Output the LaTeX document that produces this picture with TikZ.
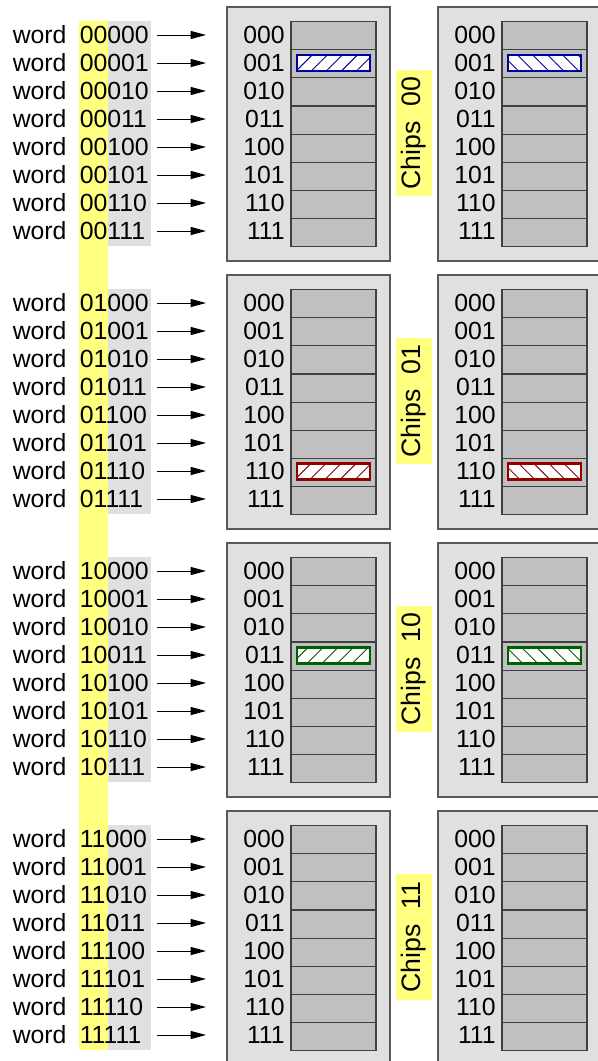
\documentclass[tikz,border=0pt]{standalone}
\usepackage{fontspec}
\setmainfont{Liberation Sans}
\usetikzlibrary{arrows.meta,patterns.meta}
\definecolor{hl}{HTML}{FFFF80}
\definecolor{bitbg}{HTML}{E0E0E0}
\definecolor{boxbg}{HTML}{E0E0E0}
\definecolor{cellbg}{HTML}{C0C0C0}
\definecolor{hblue}{HTML}{0000A0}
\definecolor{hred}{HTML}{900000}
\definecolor{hgreen}{HTML}{006000}
\tikzset{
  txt/.style={inner sep=0pt, font=\fontsize{18.6}{20}\selectfont},
  arr/.style={-{Triangle[length=11.5pt,width=6pt]}, line width=0.75pt},
  chipbox/.style={fill=boxbg, draw=black!65, line width=1pt},
  cell/.style={fill=cellbg, draw=black!75, line width=0.9pt},
  chiplabel/.style={fill=hl, rotate=90, minimum width=94.5pt, minimum height=27pt, inner sep=0pt, font=\fontsize{20}{22}\selectfont},
  hatchbox/.style={draw=#1, line width=2pt},
}
\newcommand{\hatchcell}[4]{% x, y, colour, angle
  \fill[white] (#1,#2-8) rectangle ++(73,16);
  \path[pattern={Lines[angle=#4,distance=8pt,line width=0.7pt]}, pattern color=#3] (#1,#2-8) rectangle ++(73,16);
  \draw[hatchbox=#3] (#1,#2-8) rectangle ++(73,16);
}
\begin{document}
\begin{tikzpicture}[x=0.75pt,y=-0.75pt]
\clip (0,0) rectangle (598,1061);
\fill[white] (0,0) rectangle (598,1061);
% yellow stripe of high bits
\fill[hl] (79,21) rectangle (108,1050);
\foreach \g/\gb in {0/00,1/01,2/10,3/11} {
  \pgfmathsetmacro\yz{35+268*\g}
  \fill[bitbg] (108,\yz-14) rectangle (151,\yz+7*28+15);
  % chip boxes
  \foreach \s in {0,1} {
    \draw[chipbox] (227+211*\s,\yz-28) rectangle ++(163,254);
    \foreach \r/\rb in {0/000,1/001,2/010,3/011,4/100,5/101,6/110,7/111} {
      \draw[cell] (291+211*\s,\yz-13.5+28.15*\r) rectangle ++(85,28.15);
      \node[txt, anchor=base east] (lab-\g-\s-\r) at (285+211*\s,\yz+28*\r+8.8) {\rb};
    }
  }
  \node[chiplabel] (cl-\g) at (414,\yz+98) {Chips\ \ \gb};
  % words
  \foreach \r/\rb in {0/000,1/001,2/010,3/011,4/100,5/101,6/110,7/111} {
    \node[txt, anchor=base west] (w-\g-\r) at (12.5,\yz+28*\r+8.8) {word};
    \node[txt, anchor=base west] (b-\g-\r) at (79.5,\yz+28*\r+8.8) {\gb\rb};
    \coordinate (as-\g-\r) at (157,\yz+28*\r);
    \coordinate (ae-\g-\r) at (206,\yz+28*\r);
    \draw[arr] (as-\g-\r) -- (ae-\g-\r);
  }
}
% hatched (selected) words
\hatchcell{297}{63}{hblue}{45}
\hatchcell{508}{63}{hblue}{-45}
\hatchcell{297}{471.5}{hred}{45}
\hatchcell{508}{471.5}{hred}{-45}
\hatchcell{297}{655.5}{hgreen}{45}
\hatchcell{508}{655.5}{hgreen}{-45}
\end{tikzpicture}
\end{document}
